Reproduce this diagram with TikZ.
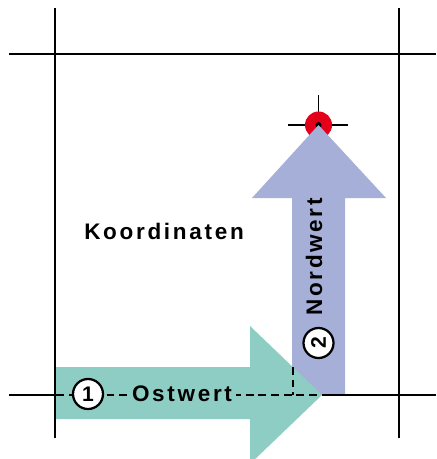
\documentclass[tikz,border=0pt]{standalone}
\usepackage{fontspec}
\setmainfont{Liberation Sans}
\newfontfamily\gesperrt[LetterSpace=12]{Liberation Sans}
\usepackage{xcolor}
\definecolor{pfeilgruen}{HTML}{8ECDC3}
\definecolor{pfeilblau}{HTML}{A5AFD8}
\definecolor{punktrot}{HTML}{E2001A}
\tikzset{
  gitter/.style={black, line width=1.6pt},
  hilfslinie/.style={black, line width=1.6pt, dash pattern=on 5.5pt off 3.5pt},
  nummer/.style={circle, draw=black, line width=1.6pt, fill=white, minimum size=0.75cm,
    inner sep=0pt, font=\bfseries\fontsize{15}{15}\selectfont},
  beschriftung/.style={font=\gesperrt\bfseries\fontsize{16}{18}\selectfont}
}

\begin{document}
\begin{tikzpicture}[x=0.025cm,y=-0.025cm]
  \useasboundingbox (0,0) rectangle (436,459);

  % ---- Fadenkreuz mit rotem Punkt -----------------------------------------
  \draw[gitter, line width=1.3pt] (288,125) -- (348,125);
  \draw[gitter, line width=1.3pt] (318.5,95) -- (318.5,155);
  \fill[punktrot] (318.5,125) circle (13.5);
  \fill[black] (318.5,125) circle (3);

  % ---- Pfeil nach Norden (blau) ------------------------------------------
  \fill[pfeilblau] (292,395) -- (292,198) -- (252,198) -- (318.5,125)
    -- (386,198) -- (345,198) -- (345,395) -- cycle;

  % ---- Pfeil nach Osten (gruen), liegt ueber dem blauen --------------------
  \fill[pfeilgruen] (56,367) -- (250,367) -- (250,326) -- (322,395)
    -- (250,464) -- (250,419) -- (56,419) -- cycle;

  % ---- Gitterlinien --------------------------------------------------------
  \draw[gitter] (9,54) -- (436,54);
  \draw[gitter] (55,8) -- (55,438);
  \draw[gitter] (399,8) -- (399,438);
  \draw[gitter] (9,395) -- (56,395);
  \draw[gitter] (322,395) -- (436,395);

  % Hilfslinien, gestrichelt
  \draw[hilfslinie] (56,395) -- (322,395);
  \draw[hilfslinie] (293,367) -- (293,395);

  % ---- Beschriftungen ------------------------------------------------------
  \node[nummer] (eins) at (88,394) {1};
  \node[beschriftung, fill=pfeilgruen, inner xsep=3pt, inner ysep=1pt] (ostwert)
    at (182,394) {Ostwert};
  \node[beschriftung] (koordinaten) at (164,231) {Koordinaten};
  \node[beschriftung, rotate=90] (nordwert) at (314,257) {Nordwert};
  \node[nummer, rotate=90] (zwei) at (318.5,343) {2};

\end{tikzpicture}
\end{document}
